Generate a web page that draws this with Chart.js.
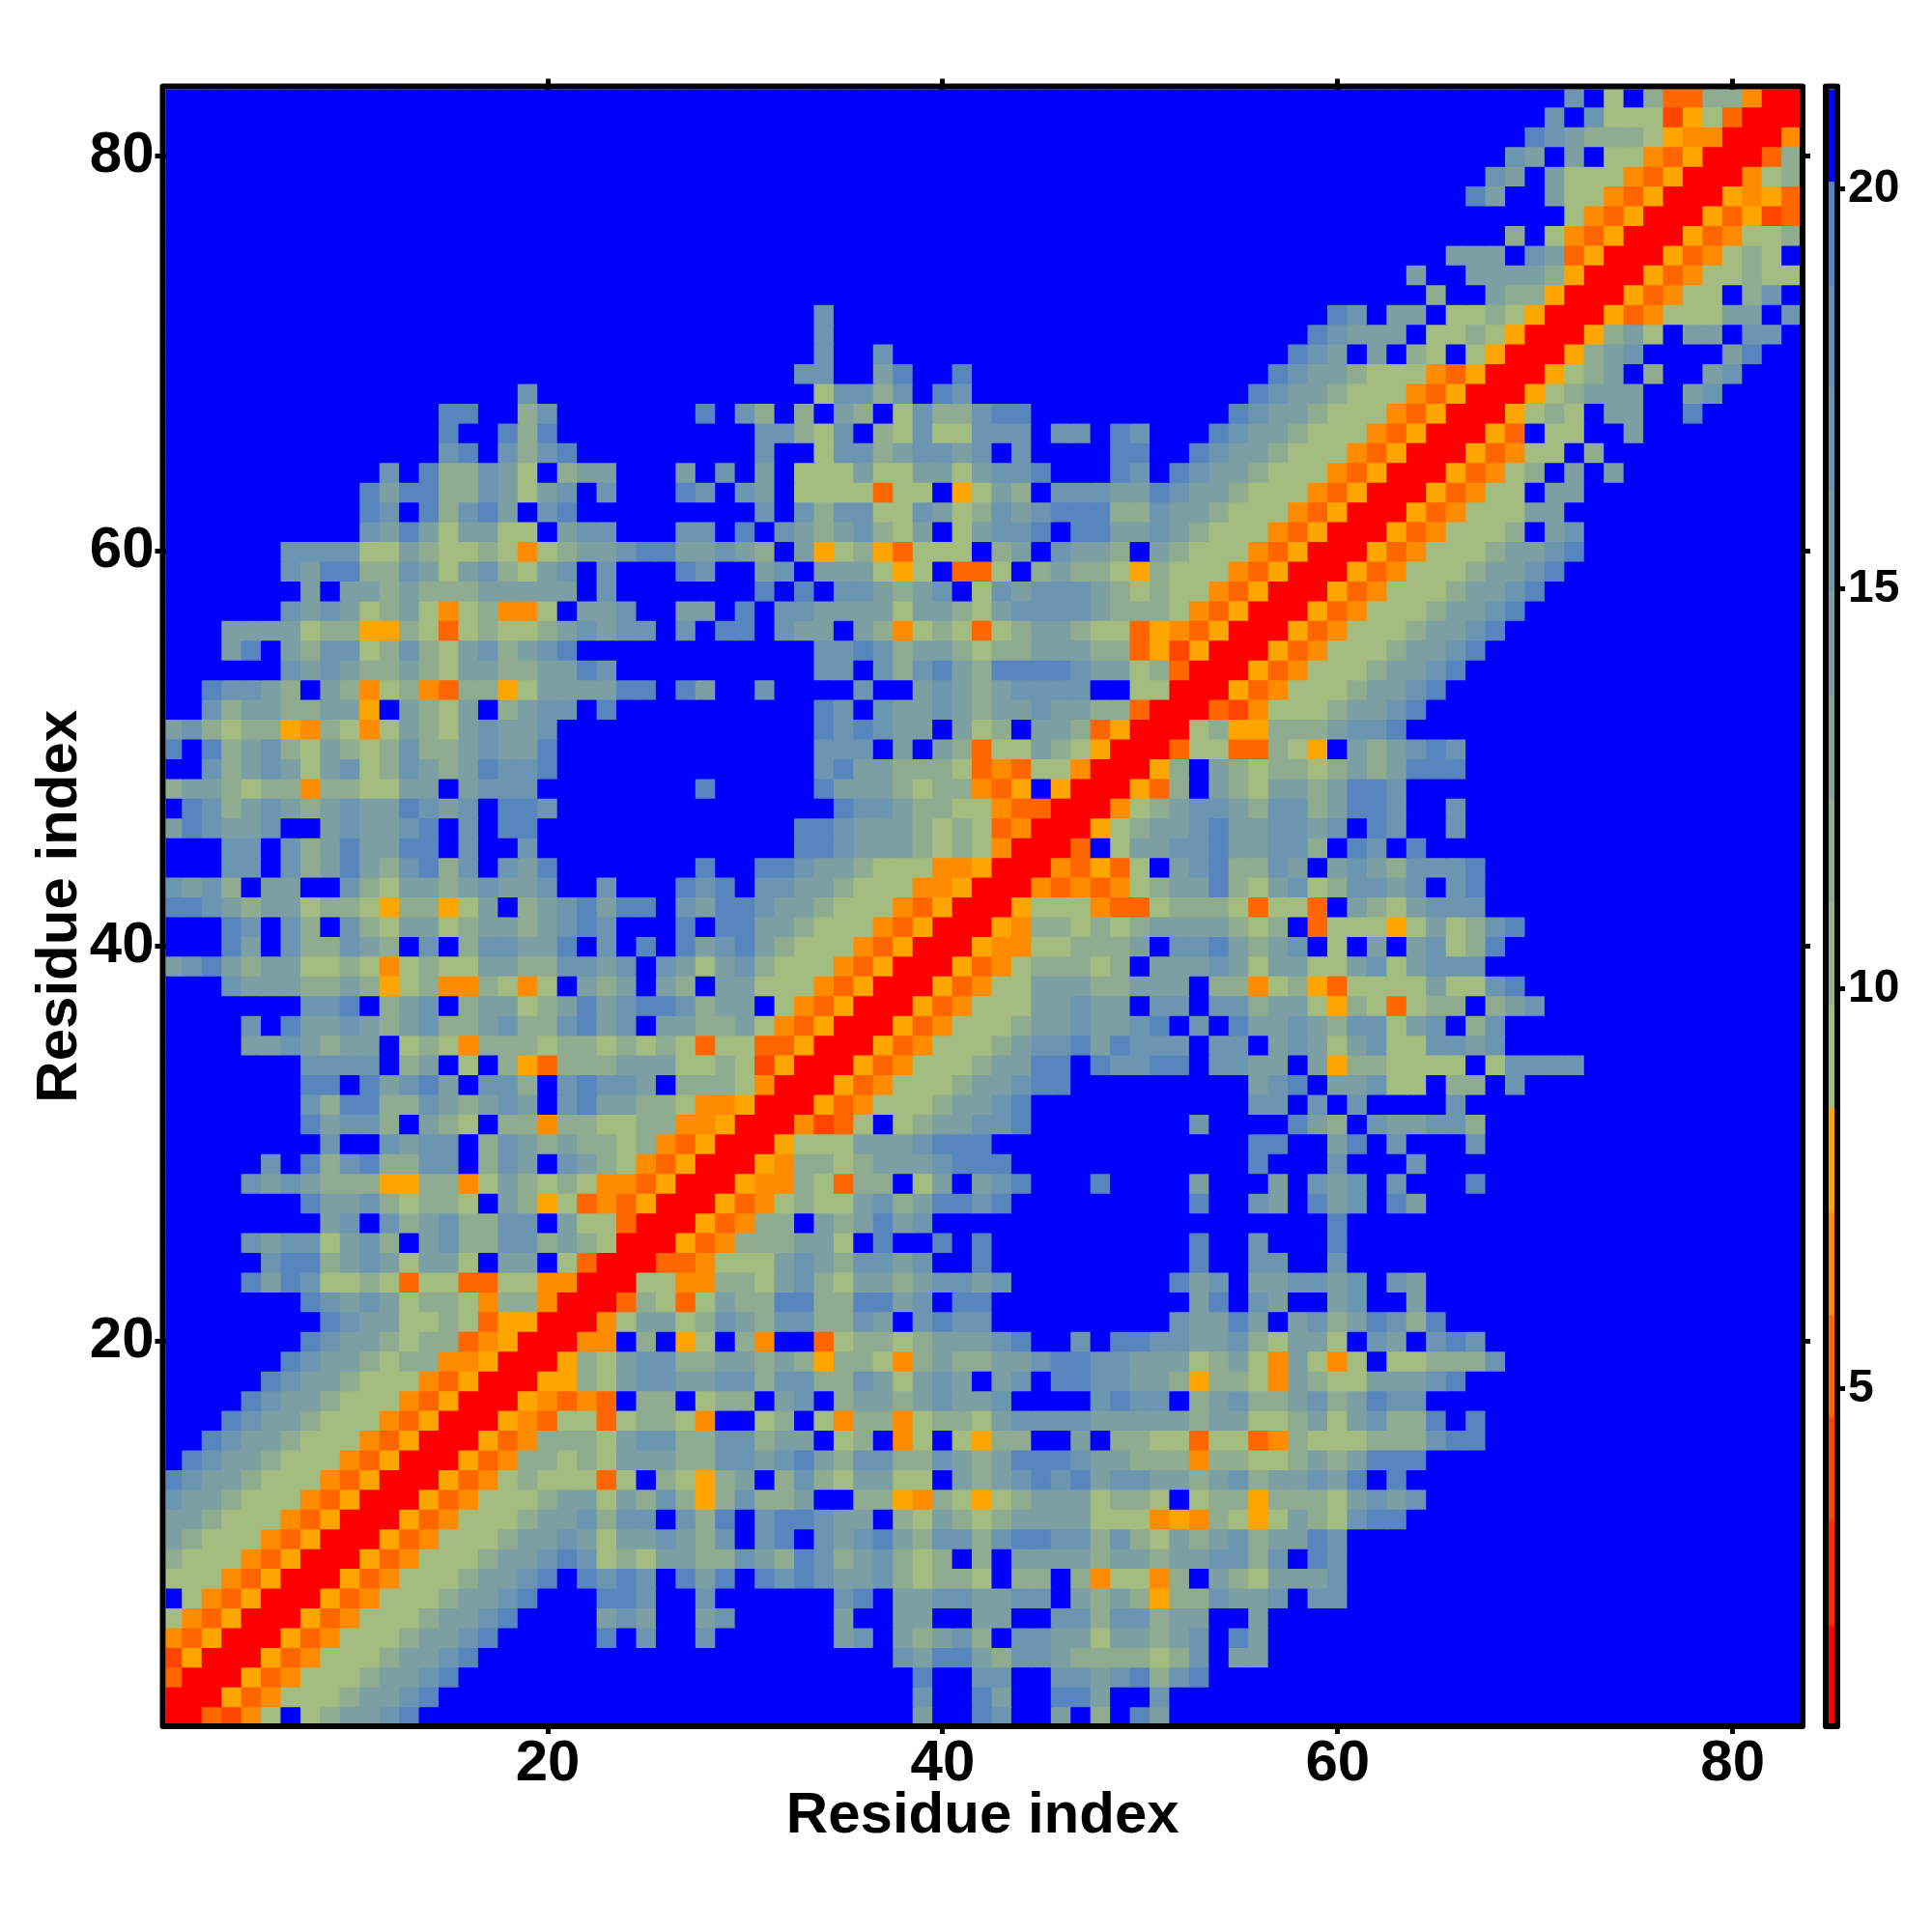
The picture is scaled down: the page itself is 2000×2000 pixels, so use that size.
<!DOCTYPE html>
<html lang="en">
<head>
  <meta charset="UTF-8">
  <title>Residue distance map</title>
  <script src="https://cdn.jsdelivr.net/npm/chart.js"></script>
  <style>
    body { margin: 0; background: #fff; }
    canvas { position: absolute; top: 0; }
    #mapChart { left: 0; }
    #barChart { left: 1880px; }
  </style>
</head>
<body>
  <canvas id="mapChart" width="2000" height="2000"></canvas>
  <canvas id="barChart" width="120" height="2000"></canvas>

  <script>
    // one row per residue, "startColumn:cells", diagonal and up
    // the map is a distance matrix so the other half is the same
    const upperRows = [
      "1:rrhjge.edccba 39:c..ab..c.d.ac",
      "2:rrfhgeeedccba 39:b..ac..aac..b",
      "3:rrfhgeeedccba 39:a..bb..bbcbadba",
      "4:rrfhgeeedccba 38:bcaacdbbcddddedb.cc",
      "5:rrfhgeeedccba 23:a.b..b 35:cb.cdcbd.bbcceccdcb.ac",
      "6:rrfhgeeedccba 23:cbc..c 29:b 35:c..cc..cc..bbdbbdcc..c",
      "7:rrfhgeeedccba 23:aab..b 35:ba.ccbbccbb.cdcdfddbccb 59:bb",
      "8:rrfhgeeedccba 21:.abab.ac 29:a.ababccbdedde.dd.dgeegd.cdecc 59:cb",
      "9:rrfhgeeedccba 22:bedeccd 29:dbcdabdcbded.d.ccccdccdccbbdb. 59:ab",
      "10:rrfhgeeedccb 22:ceccbcd 29:b.ba.bcbacdbbdbaabbdbdecdcbdcc 59:ab",
      "11:rrfhgeeedccb 23:dbb.bd 29:a.baabcc.decdedcccceeegfgdefec 59:debaa",
      "12:rrfhgeeedcc 23:ecdbdf 29:dbddc..ddfgdefedcccedde.eddfdd 59:decbcb",
      "13:rrfhge 19:deeehe.def 29:dc.dbdeccee.cdcbabacbbccdcbdcc 59:bca.a",
      "14:rrfhg 19:ddedecccdd 29:bbcbacdbbddbcdcaaabccdddgddeed 59:cdcaaa",
      "15:rrfhg 20:dddecbbdd 29:bbdcc.ed.ge.efdd..c.ddeeheehgd 59:eeedddbaa",
      "16:rrfghee 23:heddeg 29:..ed.egddgeddecbbbbcccccdcceed 59:cecbdda.a",
      "17:rrfghgh.dd.e 29:dd.cb.dccdcbccb....babb.dcbddc 59:bdcabb",
      "18:rrffdecbbcc 29:bbdbbddbcecbc.cb.aabbccdfddegc 59:deecccba",
      "19:rrfdecbbdd 29:ccdcdfddegdcddccbaabbcccedcegc 59:ege.eedddb",
      "20:rrgg.d.fe 29:.dg..heddedcccba..b.aabbccbdec 59:ce.bc.bab",
      "21:rrgecced 29:bcdbbddbc.babb 52:bccac.c 59:bdcabda",
      "22:rrhdehe 29:cddaaddaacb.aa 53:ca.bc 60:cb..c",
      "23:rreegg 29:ddecbdeccdcbbcb 52:acb.ccb 59:bcb.bc",
      "24:rrhhg 29:eeecbcdbbcb..a 53:a..bb 60:b",
      "25:rrfh 29:gdddcce.a..a.a 53:a..b 60:a",
      "26:rrf 29:hgdd.cdcacb 60:a",
      "27:rrfhgedeecbdcaaba 53:a 56:bc.acb.ac",
      "28:rrfggdehdd.ec.cba 48:a 53:c 57:c.bcb.b...a",
      "29:rrfgddedcccbaaa 56:a...b...b",
      "30:rrfeeecccbaaa 56:aa..ca.b...b",
      "31:rrgjhe.edccbba 53:b 58:acd.bccbbd",
      "32:rrfhgeeedccba 56:bb.b.b....b",
      "33:rrfhgeeedccbaa 56:cba.ccbee.dd.b",
      "34:rrfhgeeedccaa.abbaa.bb 56:cc.cfddeeee.ebbbb",
      "35:rrfhgeeedcbbacabbb.bb 56:.cbcecbeebbcb",
      "36:rrfhgeeedccbccba.b.a 56:ccbcdbbecb.db",
      "37:rrfhgeeeccbcc.bb.bb 56:dccefdehedd.dcb",
      "38:rrfhgeecccddccc.dd 56:gedfheeeeceeba",
      "39:rrfhgeddded.cccbc 56:ecceecbecbbb",
      "40:rrfggeedddc.bbac 56:dcb.e.c.cbeda",
      "41:rrfgddededccccd 56:ed.heeefecedba",
      "42:rrfeeeghheddde 56:heeh.cdecbbb",
      "43:rrghghgedccad 56:ecbedbbcb.ba",
      "44:rrghfhe.cbad 56:dbc.cbcdbbba",
      "45:rrh.eccbbac 56:cbbd.ab.a",
      "46:rrfedccbac 56:cbbcb.ab..b",
      "47:rrgedcbbc 56:dbbdcaab..b",
      "48:rrfhd.cd 56:eccdcaab",
      "49:rrfd.cd 56:eddedcdcaaa",
      "50:rrheeh 56:hdef.cdcbab",
      "51:rredf 56:fdddcbba",
      "52:rrhj 56:geeedccba",
      "53:rrf 56:hgeeedccba",
      "54:rrfhgeeedccba",
      "55:rrfhgeeedccba",
      "56:rrfhgeeedccba",
      "57:rrfhgeeedccba",
      "58:rrfhgeeedccba",
      "59:rrfhgeeedccba",
      "60:rrfhgeeedccba",
      "61:rrfhgeeed.cb",
      "62:rrfhgeeecc",
      "63:rrfhgee.cc",
      "64:rrfhged.c.c",
      "65:rrfhgee.d",
      "66:rrfh.ee..c",
      "67:rrfede.cc..a",
      "68:rrfedccc..cb",
      "69:rrfedc.d..cb",
      "70:rrfdcb....ca",
      "71:rrfdce.cc.bb",
      "72:rrfhgeeecc.b",
      "73:rrfhgee.db",
      "74:rrfhgeedee",
      "75:rrfhgede",
      "76:rrfhgeed",
      "77:rrfhfjh",
      "78:rrfgfh",
      "79:rrged",
      "80:rrhd",
      "81:rrg",
      "82:rr",
      "83:r"
    ];

    // approximate distance for each letter, "." is anything over 20
    const shadeValues = { r: 1.4, j: 4, h: 5.2, g: 6.5, f: 7.8, e: 9, d: 11.7, c: 14.2, b: 16.8, a: 19.4, ".": 20.6 };

    const levelEdges = [0.82, 2.03, 3.36, 4.65, 5.92, 7.21, 8.51, 9.79, 11.08, 12.37, 13.65, 14.95, 16.23, 17.52, 18.8, 20.09, 21.25];
    const levelColors = ["#ff0000", "#ff2a00", "#ff4500", "#ff6600", "#ff8c00", "#ffa500",
      "#a3bc80", "#9ab488", "#8fac90", "#85a599", "#7b9fa2", "#739aa9", "#6b95b0", "#628db8", "#5985bf", "#0000ff"];

    const residueTicks = [20, 40, 60, 80];
    const barTicks = [5, 10, 15, 20];
    const residueCount = 83;
    const axisMin = 0.65;   // first and last cells are cut a bit by the frame
    const axisMax = 83.39;
    const axisTitle = "Residue index";
    const fontName = "'Liberation Sans', Arial, sans-serif";

    function colorFor(v) {
      for (let i = 0; i < levelColors.length; i++) {
        if (v < levelEdges[i + 1]) return levelColors[i];
      }
      return levelColors[levelColors.length - 1];
    }

    function buildCells() {
      const grid = {};
      upperRows.forEach(function (line, r) {
        line.split(" ").forEach(function (part) {
          const [start, cells] = part.split(":");
          for (let k = 0; k < cells.length; k++) {
            const col = parseInt(start) + k;
            grid[(r + 1) + "," + col] = shadeValues[cells[k]];
            grid[col + "," + (r + 1)] = shadeValues[cells[k]];
          }
        });
      });
      const cells = [];
      for (let y = 1; y <= residueCount; y++) {
        for (let x = 1; x <= residueCount; x++) {
          const v = grid[y + "," + x];
          cells.push({ x: x, y: y, v: v === undefined ? shadeValues["."] : v });
        }
      }
      return cells;
    }

    function setTicks(values) {
      return function (scale) { scale.ticks = values.map(v => ({ value: v })); };
    }

    function fixSize(prop, size) {
      return function (scale) { scale[prop] = size; };
    }

    // black box just outside the plot area
    const framePlugin = {
      id: "frame",
      afterDatasetsDraw(chart, args, opts) {
        const a = chart.chartArea, ctx = chart.ctx, w = opts.width;
        ctx.save();
        ctx.strokeStyle = "#000";
        ctx.lineWidth = w;
        ctx.lineJoin = "round";
        ctx.strokeRect(a.left - w / 2, a.top - w / 2, a.right - a.left + w, a.bottom - a.top + w);
        ctx.restore();
      }
    };

    const tickGrid = { drawOnChartArea: false, tickLength: 11, tickWidth: 5, tickColor: "#000" };
    const tickFont = { family: fontName, size: 60, weight: "bold" };
    const titleFont = { family: fontName, size: 60, weight: "bold" };

    new Chart(document.getElementById("mapChart"), {
      type: "scatter",
      data: {
        datasets: [{
          data: buildCells(),
          pointStyle: "rect",
          borderWidth: 0,
          clip: 0,
          pointBackgroundColor: ctx => colorFor(ctx.raw.v),
          // a little over one cell wide so no white shows at the seams
          pointRadius: ctx => {
            const x = ctx.chart.scales.x;
            return (x.getPixelForValue(2) - x.getPixelForValue(1) + 1.2) * Math.SQRT2 / 2;
          }
        }]
      },
      plugins: [framePlugin],
      options: {
        responsive: false,
        animation: false,
        devicePixelRatio: 1,
        events: [],
        layout: { padding: 0 },
        plugins: { legend: { display: false }, tooltip: { enabled: false }, frame: { width: 6 } },
        scales: {
          x: {
            position: "bottom", min: axisMin, max: axisMax,
            afterBuildTicks: setTicks(residueTicks),
            afterFit: fixSize("height", 216),
            grid: tickGrid, border: { display: false },
            ticks: { color: "#000", font: tickFont, padding: -5, maxRotation: 0 },
            title: { display: true, text: axisTitle, color: "#000", font: titleFont, padding: { top: 0, bottom: 84 } }
          },
          xTop: {
            type: "linear", position: "top", min: axisMin, max: axisMax,
            afterBuildTicks: setTicks(residueTicks),
            afterFit: fixSize("height", 92.5),
            grid: tickGrid, border: { display: false },
            ticks: { callback: () => "" }
          },
          y: {
            position: "left", min: axisMin, max: axisMax,
            afterBuildTicks: setTicks(residueTicks),
            afterFit: fixSize("width", 171.5),
            grid: tickGrid, border: { display: false },
            ticks: { color: "#000", font: tickFont, padding: 1 },
            title: { display: true, text: axisTitle, color: "#000", font: titleFont, padding: { top: 26, bottom: 0 } }
          },
          yRight: {
            type: "linear", position: "right", min: axisMin, max: axisMax,
            afterBuildTicks: setTicks(residueTicks),
            afterFit: fixSize("width", 137),
            grid: tickGrid, border: { display: false },
            ticks: { callback: () => "" }
          }
        }
      }
    });

    // colour key is its own little chart, one floating bar per level
    new Chart(document.getElementById("barChart"), {
      type: "bar",
      data: {
        labels: [""],
        datasets: levelColors.map((c, i) => ({
          data: [[levelEdges[i], levelEdges[i + 1]]],
          backgroundColor: c,
          grouped: false,
          barPercentage: 1,
          categoryPercentage: 1
        }))
      },
      plugins: [framePlugin],
      options: {
        responsive: false,
        animation: false,
        devicePixelRatio: 1,
        events: [],
        layout: { padding: { left: 13, top: 92.5, bottom: 216 } },
        plugins: { legend: { display: false }, tooltip: { enabled: false }, frame: { width: 6 } },
        scales: {
          x: { display: false },
          y: {
            position: "right", min: 0.82, max: 21.25,
            afterBuildTicks: setTicks(barTicks),
            afterFit: fixSize("width", 101),
            grid: { drawOnChartArea: false, tickLength: 11, tickWidth: 5, tickColor: "#000" },
            border: { display: false },
            ticks: { color: "#000", font: { family: fontName, size: 48, weight: "bold" }, padding: 3 }
          }
        }
      }
    });
  </script>
</body>
</html>
